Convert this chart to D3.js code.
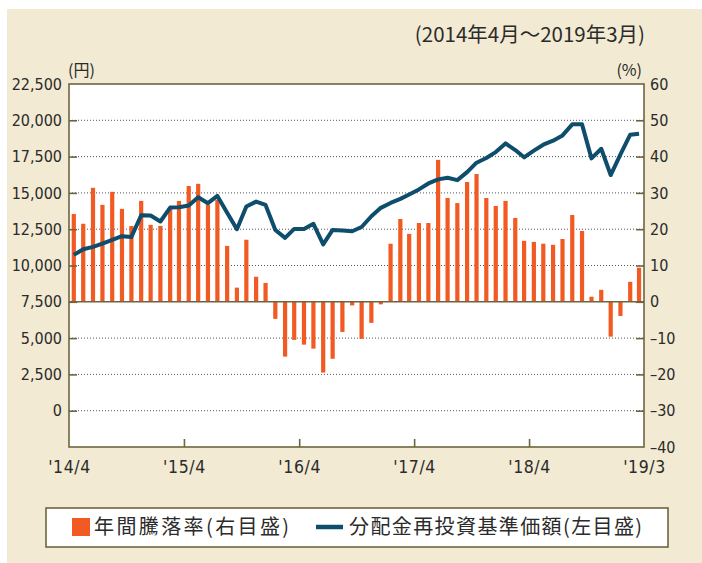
<!DOCTYPE html>
<html>
<head>
<meta charset="utf-8">
<script src="https://cdn.jsdelivr.net/npm/d3@7"></script>
<style>
  body { margin: 0; background: #fff; }
  svg text { fill: #2b2b2b; }
</style>
</head>
<body>
<div id="chart"></div>
<script>
// 年間騰落率 (%) : 2014/4 - 2019/3, monthly
const rateValues = [
  24.2, 21.5, 31.4, 26.7, 30.3, 25.6, 20.9, 27.8, 21.2, 20.9,
  26.0, 27.8, 31.9, 32.5, 26.7, 28.1, 15.4, 3.9, 17.1, 6.9,
  5.2, -4.7, -15.1, -10.5, -11.8, -12.9, -19.5, -15.7, -8.3, -1.0,
  -10.2, -5.8, -0.7, 16.0, 22.8, 18.7, 21.7, 21.7, 39.1, 28.6,
  27.2, 33.0, 35.2, 28.6, 26.4, 27.8, 23.1, 16.8, 16.5, 16.0,
  15.7, 17.3, 23.9, 19.5, 1.4, 3.3, -9.6, -3.9, 5.5, 9.4
];

// 分配金再投資基準価額 (円)
const navValues = [
  10730, 11120, 11280, 11510, 11770, 12020, 11970, 13460, 13440, 13030,
  13990, 14010, 14130, 14700, 14290, 14790, 13630, 12500, 14060, 14400,
  14170, 12450, 11900, 12520, 12520, 12870, 11450, 12450, 12410, 12360,
  12650, 13390, 13970, 14310, 14590, 14890, 15240, 15650, 15930, 16040,
  15880, 16430, 17080, 17400, 17810, 18410, 17950, 17450, 17910, 18320,
  18600, 18960, 19720, 19720, 17380, 18040, 16230, 17650, 19010, 19080
];

const months = d3.timeMonth.range(new Date(2014, 3, 1), new Date(2019, 3, 1));
const xTickDates = [new Date(2014, 3, 1), new Date(2015, 3, 1), new Date(2016, 3, 1),
  new Date(2017, 3, 1), new Date(2018, 3, 1), new Date(2019, 3, 1)];
const xTickLabels = ["'14/4", "'15/4", "'16/4", "'17/4", "'18/4", "'19/3"];
const leftTicks = d3.range(0, 22501, 2500);
const rightTicks = d3.range(-40, 61, 10);

const W = 702, H = 563;
const plot = { left: 69, right: 644, top: 84, bottom: 447 };
const numFont = "'DejaVu Sans Condensed', 'DejaVu Sans', sans-serif";
const jpFont = "'Noto Sans CJK JP', sans-serif";
const orange = "#f15a22";
const navy = "#0e4d6c";
const olive = "#6e6540";

const svg = d3.select("#chart").append("svg")
  .attr("width", W).attr("height", H);

// beige panel
svg.append("rect")
  .attr("x", 7).attr("y", 9)
  .attr("width", W - 7).attr("height", H - 9)
  .attr("fill", "#f2ead2");

svg.append("rect")
  .attr("x", plot.left).attr("y", plot.top)
  .attr("width", plot.right - plot.left).attr("height", plot.bottom - plot.top)
  .attr("fill", "#fff");

const x = d3.scaleTime()
  .domain([new Date(2014, 3, 1), new Date(2019, 3, 1)])
  .range([plot.left, plot.right]);
const step = (plot.right - plot.left) / months.length;
const barW = 4.2;

const yR = d3.scaleLinear().domain([-40, 60]).range([plot.bottom, plot.top]);
const yL = d3.scaleLinear().domain([-2500, 22500]).range([plot.bottom, plot.top]);

// dotted grid
svg.append("g")
  .selectAll("line")
  .data(rightTicks.filter(d => d !== 0 && d !== 60 && d !== -40))
  .join("line")
  .attr("x1", plot.left).attr("x2", plot.right)
  .attr("y1", d => yR(d)).attr("y2", d => yR(d))
  .attr("stroke", "#555")
  .attr("stroke-width", 1)
  .attr("stroke-dasharray", "1,2");

// bars
svg.append("g")
  .selectAll("rect")
  .data(rateValues)
  .join("rect")
  .attr("x", (d, i) => x(months[i]) + step / 2 - barW / 2)
  .attr("y", d => yR(Math.max(0, d)))
  .attr("width", barW)
  .attr("height", d => Math.abs(yR(d) - yR(0)))
  .attr("fill", orange);

// zero line
svg.append("line")
  .attr("x1", plot.left).attr("x2", plot.right)
  .attr("y1", yR(0)).attr("y2", yR(0))
  .attr("stroke", olive).attr("stroke-width", 1.6);

// nav line
const line = d3.line()
  .x((d, i) => x(months[i]) + step / 2)
  .y(d => yL(d));
svg.append("path")
  .datum(navValues)
  .attr("d", line)
  .attr("fill", "none")
  .attr("stroke", navy)
  .attr("stroke-width", 4)
  .attr("stroke-linejoin", "round");

// plot border
svg.append("rect")
  .attr("x", plot.left).attr("y", plot.top)
  .attr("width", plot.right - plot.left).attr("height", plot.bottom - plot.top)
  .attr("fill", "none")
  .attr("stroke", olive).attr("stroke-width", 1.6);

// axes
const leftAxis = d3.axisLeft(yL)
  .tickValues(leftTicks)
  .tickFormat(d3.format(","))
  .tickSize(-8).tickPadding(7);
const gL = svg.append("g")
  .attr("transform", `translate(${plot.left},0)`)
  .call(leftAxis);

const rightAxis = d3.axisRight(yR)
  .tickValues(rightTicks)
  .tickFormat(d => d < 0 ? "\u2013" + Math.abs(d) : d)
  .tickSize(-8).tickPadding(6);
const gR = svg.append("g")
  .attr("transform", `translate(${plot.right},0)`)
  .call(rightAxis);

const bottomAxis = d3.axisBottom(x)
  .tickValues(xTickDates)
  .tickFormat((d, i) => xTickLabels[i])
  .tickSize(-8).tickPadding(14);
const gB = svg.append("g")
  .attr("transform", `translate(0,${plot.bottom})`)
  .call(bottomAxis);

[gL, gR, gB].forEach(g => {
  g.select(".domain").remove();
  g.selectAll(".tick line").attr("stroke", olive).attr("stroke-width", 1.6);
  g.selectAll(".tick text")
    .style("font-family", numFont)
    .style("font-size", "16px")
    .attr("fill", "#2b2b2b");
});
gB.selectAll(".tick text")
  .style("font-size", "17.5px")
  .style("letter-spacing", "0.6px");
// no inner tick at the plot ends / top-bottom edges
gB.selectAll(".tick line").filter((d, i) => i === 0 || i === xTickDates.length - 1).remove();
gL.selectAll(".tick line").filter(d => d === 22500).remove();
gR.selectAll(".tick line").filter(d => d === 60 || d === -40).remove();

// unit labels and period
svg.append("text")
  .attr("x", 68).attr("y", 76)
  .style("font-family", jpFont).style("font-size", "16px")
  .text("(円)");
svg.append("text")
  .attr("x", 642).attr("y", 76)
  .attr("text-anchor", "end")
  .style("font-family", jpFont).style("font-size", "16px")
  .text("(%)");
svg.append("text")
  .attr("x", 645).attr("y", 42)
  .attr("text-anchor", "end")
  .style("font-family", jpFont).style("font-size", "20.5px")
  .text("(2014年4月～2019年3月)");

// legend
const lg = svg.append("g");
lg.append("rect")
  .attr("x", 46).attr("y", 508)
  .attr("width", 622).attr("height", 39)
  .attr("fill", "#fff")
  .attr("stroke", olive).attr("stroke-width", 1.6);
lg.append("rect")
  .attr("x", 72).attr("y", 518)
  .attr("width", 18).attr("height", 18)
  .attr("fill", orange);
lg.append("text")
  .attr("x", 94).attr("y", 534)
  .style("font-family", jpFont).style("font-size", "20px")
  .style("letter-spacing", "2.4px")
  .text("年間騰落率(右目盛)");
lg.append("line")
  .attr("x1", 316).attr("x2", 343)
  .attr("y1", 527).attr("y2", 527)
  .attr("stroke", navy).attr("stroke-width", 4.5);
lg.append("text")
  .attr("x", 349).attr("y", 534)
  .style("font-family", jpFont).style("font-size", "20px")
  .style("letter-spacing", "1.4px")
  .text("分配金再投資基準価額(左目盛)");
</script>
</body>
</html>
